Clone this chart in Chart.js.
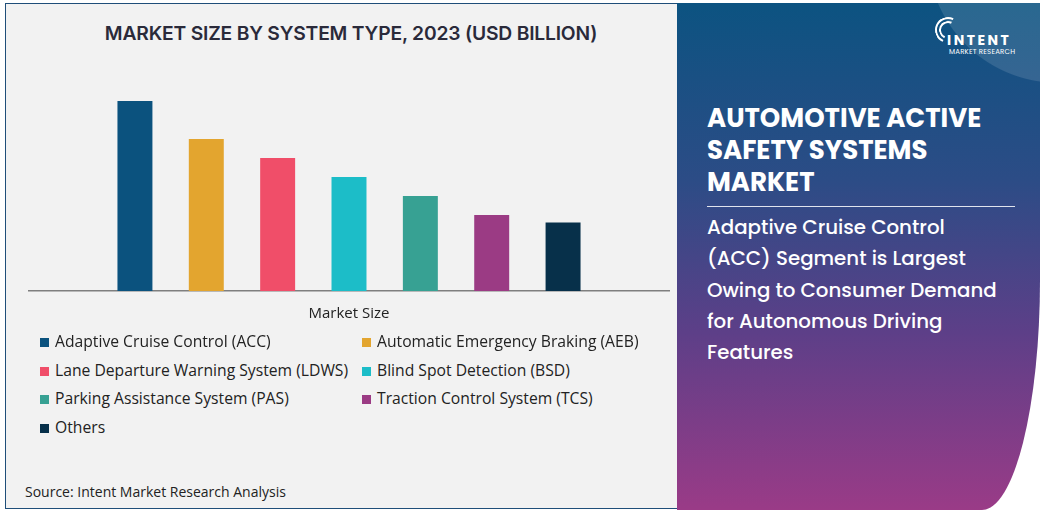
<!DOCTYPE html>
<html>
<head>
    <title>Automotive Active Safety Systems Market</title>
    <script src="https://cdn.jsdelivr.net/npm/chart.js@4.4.0/dist/chart.umd.min.js"></script>
    <style>
        body {
            margin: 0;
            width: 1043px;
            height: 513px;
            background: #ffffff;
            font-family: "Open Sans", Arial, sans-serif;
            position: relative;
            overflow: hidden;
        }
        .left-panel {
            position: absolute;
            left: 5px;
            top: 3px;
            width: 690px;
            height: 506px;
            background: #f2f2f2;
            border: 1px solid #1f4e79;
            box-sizing: border-box;
        }
        .chart-title {
            position: absolute;
            left: 5px;
            width: 692px;
            top: 21px;
            text-align: center;
            font-family: Inter, sans-serif;
            font-weight: 600;
            font-size: 19.3px;
            color: #2a2a3a;
            letter-spacing: -0.2px;
        }
        .chart-box {
            position: absolute;
            left: 28px;
            top: 82px;
            width: 642px;
            height: 255px;
        }
        .legend {
            position: absolute;
            left: 40px;
            top: 331px;
            width: 620px;
        }
        .legend-item {
            position: absolute;
            font-size: 15.7px;
            color: #222;
            white-space: nowrap;
            line-height: 20px;
        }
        .legend-item span.box {
            display: inline-block;
            width: 9px;
            height: 9px;
            margin-right: 6px;
            vertical-align: 0px;
        }
        .source {
            position: absolute;
            left: 25px;
            top: 482px;
            font-size: 14px;
            color: #222;
        }
        .right-panel {
            position: absolute;
            left: 677px;
            top: 3px;
            width: 363px;
            height: 507px;
            background:
                radial-gradient(circle at 105% -10%, rgba(255,255,255,0.12) 0, rgba(255,255,255,0.12) 130px, rgba(255,255,255,0) 131px),
                linear-gradient(180deg, #0c5381 0%, #2c4c86 35%, #5d3f88 65%, #9a3b87 100%);
            border-bottom-right-radius: 58px 230px;
            color: #fff;
            font-family: Poppins, "Open Sans", sans-serif;
        }
        .logo {
            position: absolute;
            left: 258px;
            top: 12px;
            width: 100px;
            height: 44px;
        }
        .logo .ring {
            position: absolute;
            border: 2px solid #fff;
            border-radius: 50%;
            border-right-color: transparent;
            border-bottom-color: transparent;
            transform: rotate(-20deg);
        }
        .logo .name {
            position: absolute;
            left: 12px;
            top: 15px;
            font-weight: 700;
            font-size: 14px;
            letter-spacing: 2.5px;
        }
        .logo .sub {
            position: absolute;
            left: 14px;
            top: 32px;
            font-size: 7px;
            letter-spacing: 0.2px;
        }
        .main-title {
            position: absolute;
            left: 30px;
            top: 99px;
            font-weight: 700;
            font-size: 26px;
            line-height: 32px;
            letter-spacing: 0px;
        }
        .rule {
            position: absolute;
            left: 30px;
            top: 203px;
            width: 308px;
            border-top: 1px solid rgba(255,255,255,0.85);
        }
        .subtitle {
            position: absolute;
            left: 30px;
            top: 209px;
            font-weight: 500;
            font-size: 19.8px;
            line-height: 31.3px;
        }
    </style>
</head>
<body>
    <div class="left-panel"></div>
    <div class="chart-title">MARKET SIZE BY SYSTEM TYPE, 2023 (USD BILLION)</div>
    <div class="chart-box">
        <canvas id="marketChart"></canvas>
    </div>
    <div class="legend" id="legend"></div>
    <div class="source">Source: Intent Market Research Analysis</div>

    <div class="right-panel">
        <div class="logo">
            <div class="ring" style="left:0;top:2px;width:22px;height:22px;"></div>
            <div class="ring" style="left:4px;top:6px;width:14px;height:14px;"></div>
            <div class="name">INTENT</div>
            <div class="sub">MARKET RESEARCH</div>
        </div>
        <div class="main-title">AUTOMOTIVE ACTIVE<br>SAFETY SYSTEMS<br>MARKET</div>
        <div class="rule"></div>
        <div class="subtitle">Adaptive Cruise Control<br>(ACC) Segment is Largest<br>Owing to Consumer Demand<br>for Autonomous Driving<br>Features</div>
    </div>

    <script>
        const category = ['Market Size'];
        const segments = [
            'Adaptive Cruise Control (ACC)',
            'Automatic Emergency Braking (AEB)',
            'Lane Departure Warning System (LDWS)',
            'Blind Spot Detection (BSD)',
            'Parking Assistance System (PAS)',
            'Traction Control System (TCS)',
            'Others'
        ];
        const marketSize = [5.0, 4.0, 3.5, 3.0, 2.5, 2.0, 1.8];
        const colors = ['#0b527e', '#e3a52f', '#f04e69', '#1cbdc8', '#37a193', '#9b3b84', '#07304a'];

        const datasets = segments.map((name, i) => ({
            label: name,
            data: [marketSize[i]],
            backgroundColor: colors[i],
            barPercentage: 0.49,
            categoryPercentage: 0.778
        }));

        new Chart(document.getElementById('marketChart'), {
            type: 'bar',
            data: { labels: category, datasets: datasets },
            options: {
                responsive: true,
                maintainAspectRatio: false,
                animation: false,
                layout: { padding: 0 },
                plugins: {
                    legend: { display: false },
                    tooltip: { enabled: false }
                },
                scales: {
                    x: {
                        grid: { display: false, drawTicks: false },
                        border: { display: true, color: '#7f7f7f', width: 1.5 },
                        ticks: {
                            padding: 14,
                            color: '#222',
                            font: { family: 'Open Sans', size: 15 }
                        }
                    },
                    y: {
                        display: false,
                        min: 0,
                        max: 5.5
                    }
                }
            }
        });

        // legend in two columns like the original
        const legend = document.getElementById('legend');
        segments.forEach((name, i) => {
            const item = document.createElement('div');
            item.className = 'legend-item';
            item.style.left = (i % 2 === 0 ? 0 : 322) + 'px';
            item.style.top = (Math.floor(i / 2) * 28.5) + 'px';
            item.innerHTML = '<span class="box" style="background:' + colors[i] + '"></span>' + name;
            legend.appendChild(item);
        });
    </script>
</body>
</html>
